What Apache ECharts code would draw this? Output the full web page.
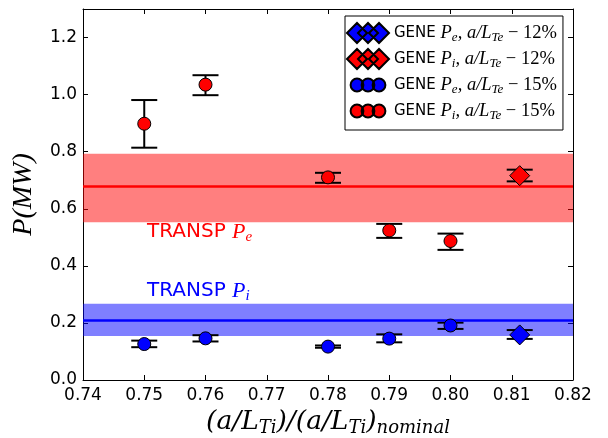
<!DOCTYPE html>
<html>
<head>
<meta charset="utf-8">
<script src="https://cdn.jsdelivr.net/npm/echarts@6/dist/echarts.min.js"></script>
<style>html,body{margin:0;padding:0;background:#fff;}#c{width:608px;height:438px;}</style>
</head>
<body>
<div id="c"></div>
<script>
// ---- data ----
const xTicks = [0.74, 0.75, 0.76, 0.77, 0.78, 0.79, 0.80, 0.81, 0.82];
const yTicks = [0.0, 0.2, 0.4, 0.6, 0.8, 1.0, 1.2];

const x15 = [0.75, 0.76, 0.78, 0.79, 0.80];
const pi15 = [0.898, 1.035, 0.710, 0.524, 0.487];
const pi15Low = [0.814, 0.998, 0.691, 0.498, 0.456];
const pi15High = [0.981, 1.068, 0.726, 0.547, 0.513];
const pe15 = [0.126, 0.146, 0.117, 0.145, 0.191];
const pe15Low = [0.115, 0.135, 0.113, 0.132, 0.179];
const pe15High = [0.138, 0.157, 0.121, 0.160, 0.201];

const x12 = [0.8113];
const pi12 = [0.716];
const pi12Low = [0.696];
const pi12High = [0.737];
const pe12 = [0.158];
const pe12Low = [0.144];
const pe12High = [0.175];

const transpRedLine = 0.675;
const transpRedBand = [0.553, 0.793];
const transpBlueLine = 0.2105;
const transpBlueBand = [0.154, 0.267];

const legendNames = ['Pe12', 'Pi12', 'Pe15', 'Pi15'];
const legendLabels = {
  Pe12: ['e', '12%'],
  Pi12: ['i', '12%'],
  Pe15: ['e', '15%'],
  Pi15: ['i', '15%']
};

// ---- helpers ----
function pts(xs, ys) { return xs.map((x, i) => [x, ys[i]]); }
function errs(xs, lo, hi) { return xs.map((x, i) => [x, lo[i], hi[i]]); }

function errRender(params, api) {
  const x = api.value(0), lo = api.value(1), hi = api.value(2);
  const a = api.coord([x, lo]), b = api.coord([x, hi]);
  const hw = 13;
  const st = { stroke: '#000', lineWidth: 2 };
  return {
    type: 'group',
    children: [
      { type: 'line', shape: { x1: a[0], y1: a[1], x2: b[0], y2: b[1] }, style: st },
      { type: 'line', shape: { x1: a[0] - hw, y1: a[1], x2: a[0] + hw, y2: a[1] }, style: st },
      { type: 'line', shape: { x1: b[0] - hw, y1: b[1], x2: b[0] + hw, y2: b[1] }, style: st }
    ]
  };
}

const diamondIcon = 'path://M0 10 L10 0 L20 10 L10 20 Z M11 10 L21 0 L31 10 L21 20 Z M22 10 L32 0 L42 10 L32 20 Z';
const circleIcon = 'path://M0 0 M42 20 M3.6 10 A6.4 6.4 0 1 0 16.4 10 A6.4 6.4 0 1 0 3.6 10 Z M14.6 10 A6.4 6.4 0 1 0 27.4 10 A6.4 6.4 0 1 0 14.6 10 Z M25.6 10 A6.4 6.4 0 1 0 38.4 10 A6.4 6.4 0 1 0 25.6 10 Z';

const serif = 'Liberation Serif';
const dserif = 'DejaVu Serif';
const sans = 'DejaVu Sans';
const axisLineStyle = { color: '#000', width: 1 };

const chart = echarts.init(document.getElementById('c'), null, { renderer: 'canvas' });

const option = {
  backgroundColor: '#fff',
  animation: false,
  grid: { left: 83, right: 35, top: 9, bottom: 58, outerBoundsMode: 'none', containLabel: false },
  xAxis: [
    {
      type: 'value', min: xTicks[0], max: xTicks[xTicks.length - 1], interval: 0.01,
      position: 'bottom',
      axisLine: { show: true, onZero: false, lineStyle: axisLineStyle },
      axisTick: { show: true, inside: true, length: 5, lineStyle: { color: '#000' } },
      axisLabel: { formatter: v => v.toFixed(2), fontSize: 17, color: '#000', fontFamily: sans, margin: 7 },
      splitLine: { show: false },
      name: '{m|(a/L}{s|Ti}{m|)/(a/L}{s|Ti}{m|)}{s|nominal}',
      nameLocation: 'middle',
      nameGap: 16,
      nameTextStyle: {
        rich: {
          m: { fontFamily: dserif, fontStyle: 'italic', fontSize: 26.5, color: '#000', lineHeight: 30 },
          s: { fontFamily: dserif, fontStyle: 'italic', fontSize: 18, color: '#000', lineHeight: 20, verticalAlign: 'bottom' }
        }
      }
    },
    {
      type: 'value', min: xTicks[0], max: xTicks[xTicks.length - 1], interval: 0.01,
      position: 'top',
      axisLine: { show: true, onZero: false, lineStyle: axisLineStyle },
      axisTick: { show: true, inside: true, length: 5, lineStyle: { color: '#000' } },
      axisLabel: { show: false },
      splitLine: { show: false }
    }
  ],
  yAxis: [
    {
      type: 'value', min: yTicks[0], max: 1.3, interval: 0.2,
      position: 'left',
      axisLine: { show: true, onZero: false, lineStyle: axisLineStyle },
      axisTick: { show: true, inside: true, length: 5, lineStyle: { color: '#000' } },
      axisLabel: { formatter: v => v.toFixed(1), fontSize: 17, color: '#000', fontFamily: sans, margin: 6, showMaxLabel: false },
      splitLine: { show: false },
      name: 'P(MW)',
      nameLocation: 'middle',
      nameRotate: 90,
      nameGap: 45,
      nameTextStyle: { fontFamily: serif, fontStyle: 'italic', fontSize: 28, color: '#000' }
    },
    {
      type: 'value', min: yTicks[0], max: 1.3, interval: 0.2,
      position: 'right',
      axisLine: { show: true, onZero: false, lineStyle: axisLineStyle },
      axisTick: { show: true, inside: true, length: 5, lineStyle: { color: '#000' } },
      axisLabel: { show: false },
      splitLine: { show: false }
    }
  ],
  legend: {
    left: 345, top: 16,
    orient: 'vertical',
    padding: [6, 6, 8, 1],
    itemGap: 4,
    itemWidth: 42, itemHeight: 20,
    borderColor: '#000', borderWidth: 1,
    backgroundColor: '#fff',
    data: [
      { name: 'Pe12', icon: diamondIcon },
      { name: 'Pi12', icon: diamondIcon },
      { name: 'Pe15', icon: circleIcon },
      { name: 'Pi15', icon: circleIcon }
    ],
    formatter: function (name) {
      const l = legendLabels[name];
      return '{g|GENE }{m|P}{s|' + l[0] + '}{m|, a/L}{s|Te}{r| \u2212 ' + l[1] + '}';
    },
    textStyle: {
      rich: {
        g: { fontFamily: sans, fontSize: 15, color: '#000', lineHeight: 22 },
        m: { fontFamily: serif, fontStyle: 'italic', fontSize: 18.5, color: '#000', lineHeight: 22 },
        s: { fontFamily: serif, fontStyle: 'italic', fontSize: 13, color: '#000', lineHeight: 14, verticalAlign: 'bottom' },
        r: { fontFamily: serif, fontSize: 18.5, color: '#000', lineHeight: 22 }
      }
    }
  },
  graphic: [
    {
      type: 'text', x: 147, y: 232, z: 10,
      style: {
        text: '{t|TRANSP }{m|P}{s|e}',
        verticalAlign: 'middle',
        rich: {
          t: { fontFamily: sans, fontSize: 20, fill: '#ff0000', lineHeight: 26 },
          m: { fontFamily: serif, fontStyle: 'italic', fontSize: 22, fill: '#ff0000', lineHeight: 26 },
          s: { fontFamily: serif, fontStyle: 'italic', fontSize: 15, fill: '#ff0000', lineHeight: 16, verticalAlign: 'bottom' }
        }
      }
    },
    {
      type: 'text', x: 147, y: 291, z: 10,
      style: {
        text: '{t|TRANSP }{m|P}{s|i}',
        verticalAlign: 'middle',
        rich: {
          t: { fontFamily: sans, fontSize: 20, fill: '#0000ff', lineHeight: 26 },
          m: { fontFamily: serif, fontStyle: 'italic', fontSize: 22, fill: '#0000ff', lineHeight: 26 },
          s: { fontFamily: serif, fontStyle: 'italic', fontSize: 15, fill: '#0000ff', lineHeight: 16, verticalAlign: 'bottom' }
        }
      }
    }
  ],
  series: [
    {
      name: 'bandRed', type: 'line', data: [], silent: true, z: 1,
      markArea: {
        silent: true,
        itemStyle: { color: 'rgba(255,0,0,0.5)' },
        data: [[{ yAxis: transpRedBand[0] }, { yAxis: transpRedBand[1] }]]
      },
      markLine: {
        silent: true, symbol: 'none', label: { show: false },
        lineStyle: { color: '#ff0000', width: 2.5, type: 'solid' },
        data: [{ yAxis: transpRedLine }]
      }
    },
    {
      name: 'bandBlue', type: 'line', data: [], silent: true, z: 1,
      markArea: {
        silent: true,
        itemStyle: { color: 'rgba(0,0,255,0.5)' },
        data: [[{ yAxis: transpBlueBand[0] }, { yAxis: transpBlueBand[1] }]]
      },
      markLine: {
        silent: true, symbol: 'none', label: { show: false },
        lineStyle: { color: '#0000ff', width: 2.5, type: 'solid' },
        data: [{ yAxis: transpBlueLine }]
      }
    },
    { name: 'errPi15', type: 'custom', renderItem: errRender, data: errs(x15, pi15Low, pi15High), z: 3, silent: true },
    { name: 'errPe15', type: 'custom', renderItem: errRender, data: errs(x15, pe15Low, pe15High), z: 3, silent: true },
    { name: 'errPi12', type: 'custom', renderItem: errRender, data: errs(x12, pi12Low, pi12High), z: 3, silent: true },
    { name: 'errPe12', type: 'custom', renderItem: errRender, data: errs(x12, pe12Low, pe12High), z: 3, silent: true },
    {
      name: 'Pe12', type: 'scatter', data: pts(x12, pe12), symbol: 'diamond', symbolSize: 20, z: 5,
      itemStyle: { color: '#0000ff', borderColor: '#000', borderWidth: 1, opacity: 1 }
    },
    {
      name: 'Pi12', type: 'scatter', data: pts(x12, pi12), symbol: 'diamond', symbolSize: 20, z: 5,
      itemStyle: { color: '#ff0000', borderColor: '#000', borderWidth: 1, opacity: 1 }
    },
    {
      name: 'Pe15', type: 'scatter', data: pts(x15, pe15), symbol: 'circle', symbolSize: 13, z: 5,
      itemStyle: { color: '#0000ff', borderColor: '#000', borderWidth: 1, opacity: 1 }
    },
    {
      name: 'Pi15', type: 'scatter', data: pts(x15, pi15), symbol: 'circle', symbolSize: 13, z: 5,
      itemStyle: { color: '#ff0000', borderColor: '#000', borderWidth: 1, opacity: 1 }
    }
  ]
};
chart.setOption(option);
</script>
</body>
</html>
